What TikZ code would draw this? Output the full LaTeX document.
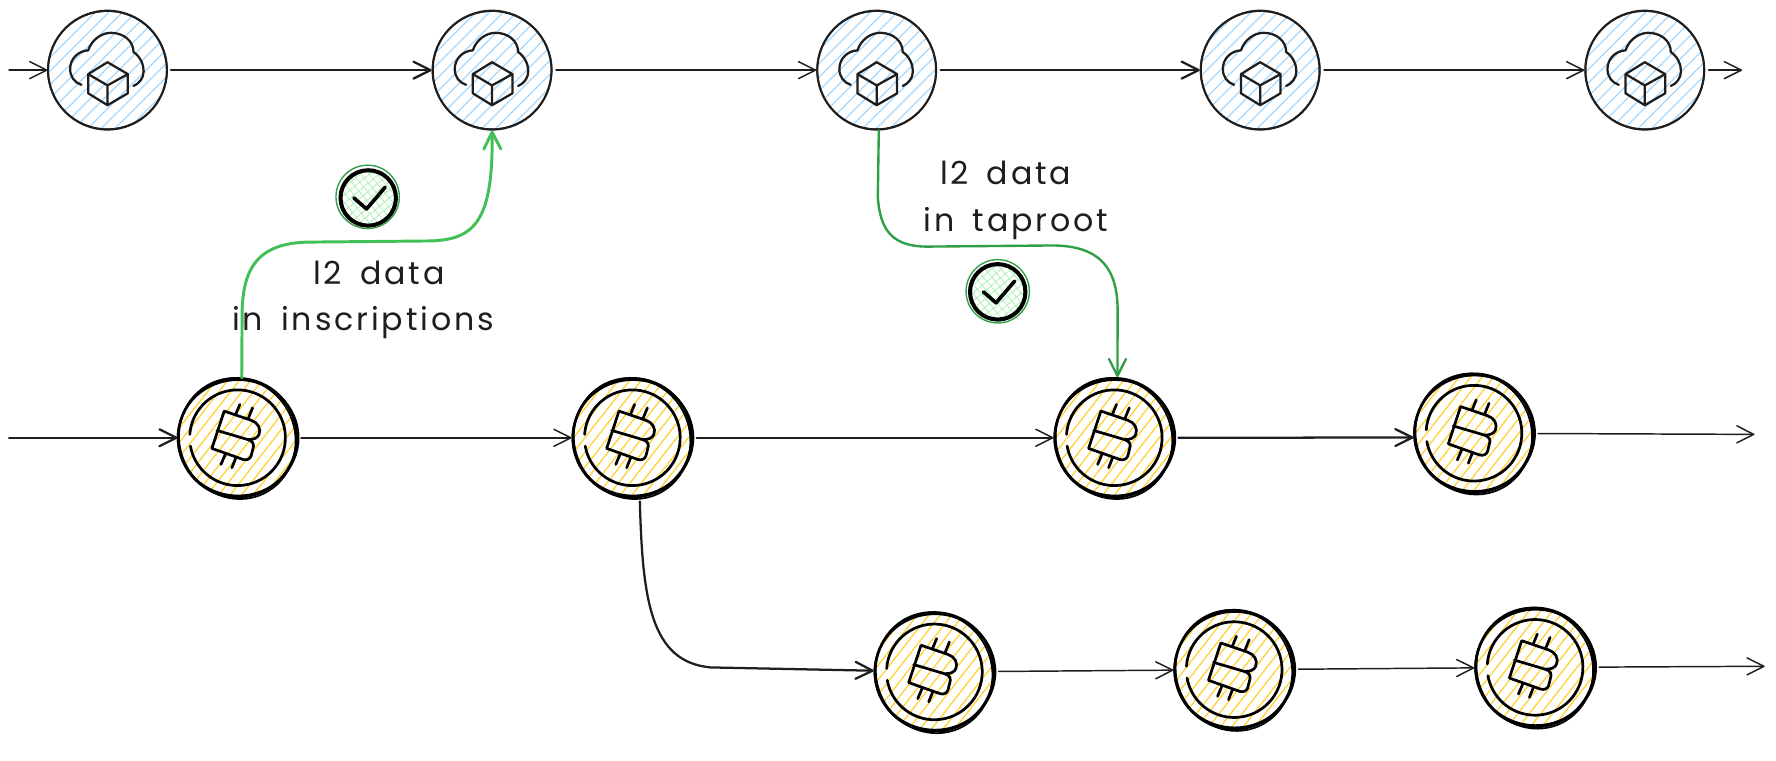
\documentclass[tikz,border=0pt]{standalone}
\usepackage{tikz}
\usepackage{xcolor}
\usepackage{fontspec}
\setmainfont{Poppins}[LetterSpace=9,WordSpace=1.6]
\usetikzlibrary{arrows.meta, patterns.meta, positioning}
\definecolor{inkblack}{HTML}{1E1E1E}
\definecolor{hatchblue}{HTML}{A5D8FF}
\definecolor{hatchyellow}{HTML}{FFD43B}
\definecolor{hatchgreen}{HTML}{B2F2BB}
\definecolor{lightgreen}{HTML}{40C057}
\definecolor{darkgreen}{HTML}{2F9E44}
\tikzset{
  cloudnode/.style={circle, draw=inkblack, line width=1.9pt, minimum size=105pt, inner sep=0pt,
    pattern={Lines[angle=45,distance=8.5pt,line width=1.1pt]}, pattern color=hatchblue},
  coinnode/.style={circle, draw=black, line width=2.4pt, minimum size=105pt, inner sep=0pt,
    pattern={Lines[angle=52,distance=8pt,line width=1.2pt]}, pattern color=hatchyellow},
  okbadge/.style={circle, draw=black, line width=3.6pt, minimum size=49pt, inner sep=0pt,
    pattern={Hatch[angle=40,distance=5.5pt,line width=.8pt]}, pattern color=hatchgreen},
  flow/.style={draw=inkblack, line width=1.3pt, line cap=round,
    -{Straight Barb[length=15pt,width=15pt,round]}, shorten <=3pt},
  thickflow/.style={flow, line width=2pt},
  greenflow/.style={flow, draw=lightgreen, line width=2.6pt, shorten <=0pt},
  darkflow/.style={flow, draw=darkgreen, line width=2.1pt, shorten <=0pt},
  caption/.style={align=center, font=\fontsize{28}{41}\selectfont, text=inkblack},
  cloudicon/.pic={
    \draw[inkblack, line width=2pt, line cap=round, line join=round]
      (-23,13) .. controls (-29,11) and (-33,6) .. (-33,-1) .. controls (-33,-10) and (-26,-17) .. (-17,-17.5)
      .. controls (-14,-27) and (-5,-33) .. (3,-33) .. controls (14,-33) and (23,-26) .. (23,-16)
      .. controls (29,-12) and (32,-5) .. (32,1) .. controls (32,7) and (28,12) .. (23,14);
    \draw[inkblack, line width=2pt, line cap=round, line join=round]
      (0,-7) -- (18,3.5) -- (18,20.5) -- (0,31) -- (-17,20.5) -- (-17,3.5) -- cycle
      (-17,3.5) -- (0,13.5) -- (18,3.5) (0,13.5) -- (0,31);
    \draw[inkblack, line width=1pt] (0,0) ellipse (52.8pt and 52pt);
  },
  coinicon/.pic={
    \draw[black, line width=2.4pt, line cap=round, line join=round]
      (-11.8,-23.6) -- (12,-15.5) .. controls (18,-13.5) and (21,-8) .. (19,-3) .. controls (18,0) and (14,2) .. (8.8,1.5)
      -- (-18.3,-6.5)
      (8.8,1.5) .. controls (14,3) and (15,6) .. (13.5,10) -- (12,16) .. controls (11,19) and (8,20) .. (5,19.2)
      -- (-22.7,9.4) -- (-11.8,-23.6)
      (2,-29.5) -- (-1.5,-21) (13.3,-26.5) -- (9.7,-17.7)
      (-10.9,14.7) -- (-14.7,23.6) (-1.5,17.7) -- (-5,26.5);
    \draw[black, line width=2.4pt, line cap=round] (-42.2,-3) arc (176:-170:42.3pt);
    \draw[black, line width=1.5pt] (0.5,0) ellipse (53.5pt and 51pt);
    \draw[black, line width=1.5pt, rotate=25] (-0.5,0.5) ellipse (51pt and 54pt);
  },
  checkicon/.pic={
    \draw[black, line width=3.2pt, line cap=round, line join=round] (-12.7,0) -- (-1.5,9.7) -- (15,-9.5);
  },
}
\begin{document}
\begin{tikzpicture}[x=1pt, y=-1pt]
  \useasboundingbox (0,0) rectangle (1570,672);

  \node[cloudnode] (C1) at (95,62) {};
  \node[cloudnode] (C2) at (435,62) {};
  \node[cloudnode] (C3) at (775,62) {};
  \node[cloudnode] (C4) at (1114,62) {};
  \node[cloudnode] (C5) at (1454,62) {};
  \pic at (C1) {cloudicon};
  \pic at (C2) {cloudicon};
  \pic at (C3) {cloudicon};
  \pic at (C4) {cloudicon};
  \pic at (C5) {cloudicon};

  \node[coinnode] (B1) at (210,387) {};
  \node[coinnode] (B2) at (559,387) {};
  \node[coinnode] (B3) at (985,387) {};
  \node[coinnode] (B4) at (1303,383) {};
  \node[coinnode] (L1) at (826,594) {};
  \node[coinnode] (L2) at (1091,592) {};
  \node[coinnode] (L3) at (1357,590) {};
  \pic at (B1) {coinicon};
  \pic at (B2) {coinicon};
  \pic at (B3) {coinicon};
  \pic at (B4) {coinicon};
  \pic at (L1) {coinicon};
  \pic at (L2) {coinicon};
  \pic at (L3) {coinicon};

  \coordinate (topin) at (5,62);
  \coordinate (topout) at (1540,62);
  \coordinate (midin) at (5,387);
  \coordinate (midout) at (1551,384);
  \coordinate (lowout) at (1560,589);

  \draw[flow] (topin) -- (C1);
  \draw[thickflow] (C1) -- (C2);
  \draw[flow] (C2) -- (C3);
  \draw[thickflow] (C3) -- (C4);
  \draw[flow] (C4) -- (C5);
  \draw[flow] (C5) -- (topout);

  \draw[thickflow] (midin) -- (B1);
  \draw[flow] (B1) -- (B2);
  \draw[flow] (B2) -- (B3);
  \draw[thickflow] (B3.east) -- (B4.184);
  \draw[flow] (B4) -- (midout);

  \draw[thickflow] (B2.-83) .. controls (568,530) and (575,585) .. (628,590) -- (L1);
  \draw[flow] (L1) -- (L2);
  \draw[flow] (L2) -- (L3);
  \draw[flow] (L3) -- (lowout);

  \draw[greenflow] (B1.86) -- (214,280) .. controls (214,240) and (225,214) .. (275,214)
    -- (380,213) .. controls (420,212) and (436,195) .. (C2.south);
  \draw[darkflow] (C3.272) -- (776,174) .. controls (778,205) and (790,218) .. (820,218)
    -- (930,217) .. controls (975,217) and (988,240) .. (988,275) -- (B3.87);

  \node[okbadge] (K1) at (325.5,175) {};
  \node[okbadge] (K2) at (882,258) {};
  \draw[lightgreen!80!black, line width=1.2pt] (K1) ++(-.5,-1) circle (28pt);
  \draw[darkgreen, line width=1.2pt] (K2) ++(0,-.5) circle (28pt);
  \pic at (K1) {checkicon};
  \pic at (K2) {checkicon};

  \node[caption] (inscriptions) at (321,265) {\hspace*{28pt}l2 data\\in inscriptions};
  \node[caption] (taproot) at (898,177) {l2 data\hspace*{18pt}\\in taproot};
\end{tikzpicture}
\end{document}
